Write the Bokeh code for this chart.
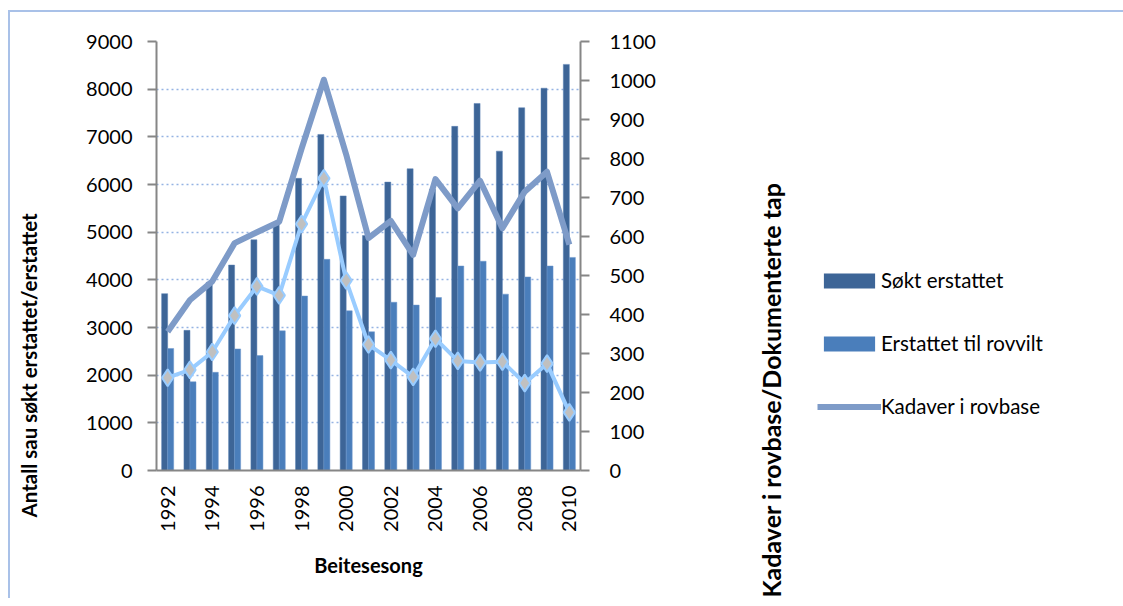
from math import pi
from bokeh.plotting import figure
from bokeh.layouts import row
from bokeh.models import (Range1d, LinearAxis, FixedTicker, Legend, LegendItem,
                          ColumnDataSource, Title)
from bokeh.transform import dodge
from bokeh.embed import file_html
from bokeh.resources import INLINE

years = list(range(1992, 2011))
sokt = [3710, 2940, 3950, 4310, 4840, 5200, 6130, 7050, 5760, 4930,
        6050, 6330, 5900, 7220, 7700, 6700, 7610, 8020, 8520]
erstattet = [2560, 1860, 2060, 2550, 2410, 2930, 3660, 4430, 3350, 2910,
             3530, 3470, 3630, 4290, 4390, 3700, 4060, 4290, 4470]
kadaver = [356, 437, 485, 583, 611, 638, 825, 1002, 810, 596,
           640, 553, 747, 672, 743, 621, 715, 766, 579]
dokumentert = [238, 258, 304, 397, 472, 449, 632, 749, 487, 323,
               283, 240, 338, 281, 277, 279, 224, 274, 149]
left_ticks = list(range(0, 9001, 1000))
right_ticks = list(range(0, 1101, 100))
year_ticks = list(range(1992, 2011, 2))
left_title = "Antall sau søkt erstattet/erstattet"
right_title = "Kadaver i rovbase/Dokumenterte tap"
x_title = "Beitesesong"
series_names = ["Søkt erstattet", "Erstattet til rovvilt", "Kadaver i rovbase"]

src = ColumnDataSource(dict(year=years, sokt=sokt, erstattet=erstattet,
                            kadaver=kadaver, dok=dokumentert))

FONT = "Lato"
GRAY = "#868686"
C_SOKT = "#3d6597"
C_ERST = "#4a7ebb"
C_KAD = "#7e9bc8"
C_DOK = "#99ccff"
H = 586


def side_figure(w, border_left, **kw):
    f = figure(width=w, height=H, output_backend="svg", toolbar_location=None,
               x_axis_location=None, y_axis_location=None,
               min_border_left=border_left, min_border_right=0, min_border_top=29,
               min_border_bottom=128, **kw)
    f.outline_line_color = None
    f.xgrid.visible = False
    f.ygrid.visible = False
    return f


# ---- left panel: left title
pl = side_figure(60, 31, x_range=Range1d(0, 1), y_range=Range1d(0, 1))
pl.add_layout(Title(text=left_title, align="left", offset=-47, standoff=10,
                    vertical_align="middle", text_font=FONT,
                    text_font_style="bold", text_font_size="20.5px",
                    text_color="black"), "left")

# ---- main chart
p = figure(width=620, height=H, output_backend="svg", toolbar_location=None,
           x_range=Range1d(1991.5, 2010.5), y_range=Range1d(0, 9000),
           min_border_left=86, min_border_right=110, min_border_top=29,
           min_border_bottom=128)
p.extra_y_ranges = {"right": Range1d(0, 1100)}
p.outline_line_color = None

p.xgrid.visible = False
p.ygrid.grid_line_color = "#95b3e3"
p.ygrid.grid_line_dash = "2 3"
p.ygrid.grid_line_width = 1.5

p.vbar(x=dodge("year", -0.135, range=p.x_range), top="sokt", width=0.27,
       source=src, fill_color=C_SOKT, line_color="#5a80b4", line_width=0.5)
p.vbar(x=dodge("year", 0.135, range=p.x_range), top="erstattet", width=0.27,
       source=src, fill_color=C_ERST, line_color="#6c96cc", line_width=0.5)
p.line("year", "kadaver", source=src, y_range_name="right",
       line_color=C_KAD, line_width=6, line_join="round")
p.line("year", "dok", source=src, y_range_name="right",
       line_color=C_DOK, line_width=4, line_join="round")
p.scatter("year", "dok", source=src, y_range_name="right", marker="diamond",
          size=17, fill_color="#c0c0c0", line_color=C_DOK, line_width=2)


def style_axis(ax):
    ax.axis_line_color = GRAY
    ax.axis_line_width = 2
    ax.major_tick_line_color = GRAY
    ax.major_tick_line_width = 2
    ax.major_tick_out = 9
    ax.major_tick_in = 0
    ax.minor_tick_line_color = None
    ax.major_label_text_font = FONT
    ax.major_label_text_font_size = "20px"
    ax.major_label_text_color = "black"
    ax.major_label_standoff = 15


yax = p.yaxis[0]
yax.ticker = FixedTicker(ticks=left_ticks)
style_axis(yax)

rax = LinearAxis(y_range_name="right", ticker=FixedTicker(ticks=right_ticks))
style_axis(rax)
rax.major_label_standoff = 20
p.add_layout(rax, "right")

xax = p.xaxis[0]
xax.ticker = FixedTicker(ticks=year_ticks)
style_axis(xax)
xax.major_tick_line_color = None
xax.major_tick_out = 0
xax.major_label_orientation = pi / 2
xax.major_label_standoff = 15
xax.axis_label = x_title
xax.axis_label_text_font = FONT
xax.axis_label_text_font_style = "bold"
xax.axis_label_text_font_size = "20px"
xax.axis_label_text_color = "black"
xax.axis_label_standoff = 18

# ---- right panel: right title + legend
# legend proxies use the same data with zero size (no visible marks)
pr = side_figure(433, 101, x_range=Range1d(1991.5, 2010.5),
                 y_range=Range1d(0, 9000))
pr.add_layout(Title(text=right_title, align="left", offset=-127, standoff=10,
                    vertical_align="middle", text_font=FONT,
                    text_font_style="bold", text_font_size="25px",
                    text_color="black"), "left")

g1 = pr.vbar(x="year", top="sokt", bottom="sokt", width=0, source=src,
             fill_color=C_SOKT, line_color=None)
g2 = pr.vbar(x="year", top="erstattet", bottom="erstattet", width=0, source=src,
             fill_color=C_ERST, line_color=None)
g3 = pr.segment(x0="year", y0="kadaver", x1="year", y1="kadaver", source=src,
                line_color=C_KAD, line_width=6, line_cap="butt")
legend = Legend(items=[LegendItem(label=series_names[0], renderers=[g1]),
                       LegendItem(label=series_names[1], renderers=[g2]),
                       LegendItem(label=series_names[2], renderers=[g3])],
                location=(26, 52), orientation="vertical", glyph_width=64,
                glyph_height=19, label_height=20, spacing=39, padding=0, margin=0,
                border_line_color=None, background_fill_alpha=0,
                label_text_font=FONT, label_text_font_size="20.5px",
                label_text_color="black", label_standoff=0)
pr.add_layout(legend)

layout = row(pl, p, pr)
layout.styles = {"border-top": "2px solid #a9c1e8", "border-left": "2px solid #a9c1e8",
                 "margin-left": "8px", "margin-top": "10px"}

open("out.html", "w").write(file_html(layout, INLINE))
